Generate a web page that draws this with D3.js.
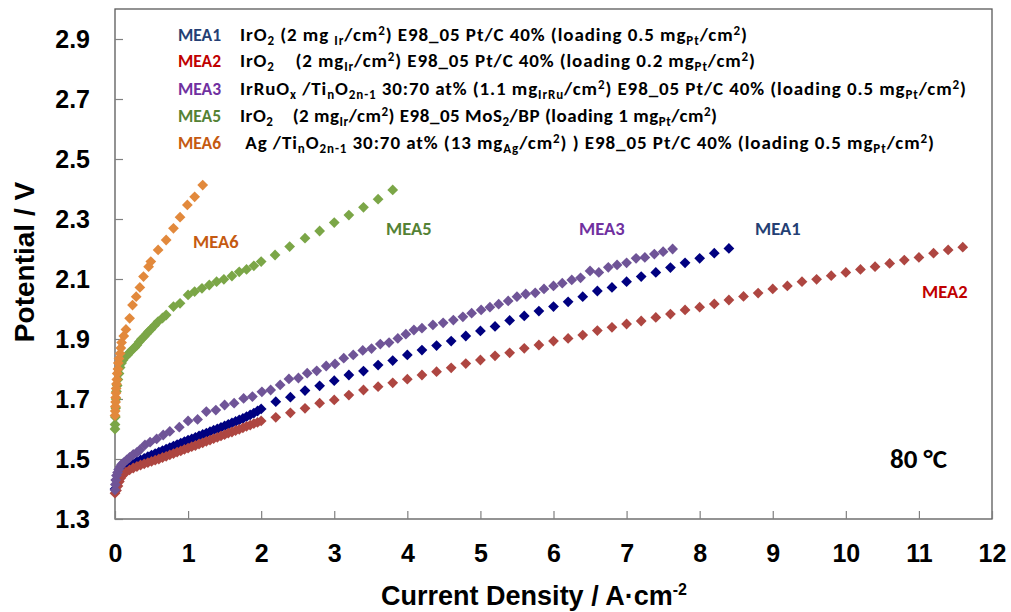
<!DOCTYPE html>
<html><head><meta charset="utf-8">
<script src="https://cdn.jsdelivr.net/npm/d3@7"></script>
<style>
body{margin:0;background:#fff}
text{white-space:pre}
</style></head>
<body><svg id="c" width="1011" height="612" xmlns="http://www.w3.org/2000/svg"></svg>
<script>
// ---------- data ----------
const xTicks = [0,1,2,3,4,5,6,7,8,9,10,11,12];
const yTicks = [1.3,1.5,1.7,1.9,2.1,2.3,2.5,2.7,2.9];
const seriesNames = ["MEA1","MEA2","MEA3","MEA5","MEA6"];
const markerColors = ["#000080","#AE4641","#6F5497","#7BA647","#E2893C"];
const labelColors  = ["#243F74","#C00000","#7030A0","#548235","#C55A11"];

// [current density A/cm2, potential V]
const mea1 = [[0,1.40],[0.02,1.43],[0.04,1.445],[0.06,1.455],[0.08,1.46],[0.1,1.465],[0.15,1.472],[0.2,1.479],[0.25,1.485],[0.3,1.491],[0.35,1.497],[0.4,1.502],[0.45,1.508],[0.5,1.513],[0.55,1.518],[0.6,1.523],[0.65,1.528],[0.7,1.533],[0.75,1.538],[0.8,1.543],[0.85,1.548],[0.9,1.553],[0.95,1.558],[1.0,1.563],[1.05,1.567],[1.1,1.572],[1.15,1.577],[1.2,1.582],[1.25,1.586],[1.3,1.591],[1.35,1.596],[1.4,1.600],[1.45,1.605],[1.5,1.610],[1.55,1.615],[1.6,1.620],[1.65,1.625],[1.7,1.630],[1.75,1.635],[1.8,1.641],[1.85,1.647],[1.9,1.653],[1.95,1.660],[2.0,1.667],
[2.2,1.691],[2.4,1.706],[2.6,1.728],[2.8,1.744],[3.0,1.761],[3.2,1.780],[3.4,1.793],[3.6,1.813],[3.8,1.828],[4.0,1.847],[4.2,1.863],[4.4,1.878],[4.6,1.893],[4.8,1.910],[5.0,1.927],[5.2,1.942],[5.4,1.962],[5.6,1.977],[5.8,1.993],[6.0,2.008],[6.2,2.024],[6.4,2.041],[6.6,2.060],[6.8,2.072],[7.0,2.091],[7.2,2.108],[7.4,2.122],[7.6,2.138],[7.8,2.154],[8.0,2.169],[8.2,2.186],[8.4,2.202]];

const mea2 = [[0,1.386],[0.02,1.395],[0.04,1.41],[0.06,1.425],[0.08,1.437],[0.1,1.445],[0.15,1.456],[0.2,1.464],[0.25,1.47],[0.3,1.475],[0.35,1.48],[0.4,1.484],[0.45,1.488],[0.5,1.492],[0.55,1.496],[0.6,1.5],[0.65,1.505],[0.7,1.509],[0.75,1.514],[0.8,1.518],[0.85,1.523],[0.9,1.527],[0.95,1.532],[1.0,1.536],[1.05,1.541],[1.1,1.545],[1.15,1.55],[1.2,1.554],[1.25,1.559],[1.3,1.563],[1.35,1.568],[1.4,1.572],[1.45,1.577],[1.5,1.581],[1.55,1.586],[1.6,1.59],[1.65,1.595],[1.7,1.599],[1.75,1.604],[1.8,1.609],[1.85,1.613],[1.9,1.618],[1.95,1.622],[2.0,1.627],
[2.2,1.639],[2.4,1.654],[2.6,1.669],[2.8,1.686],[3.0,1.697],[3.2,1.713],[3.4,1.73],[3.6,1.741],[3.8,1.754],[4.0,1.766],[4.2,1.78],[4.4,1.791],[4.6,1.804],[4.8,1.818],[5.0,1.83],[5.2,1.844],[5.4,1.854],[5.6,1.869],[5.8,1.88],[6.0,1.893],[6.2,1.902],[6.4,1.913],[6.6,1.928],[6.8,1.939],[7.0,1.95],[7.2,1.96],[7.4,1.972],[7.6,1.983],[7.8,1.997],[8.0,2.006],[8.2,2.017],[8.4,2.03],[8.6,2.042],[8.8,2.053],[9.0,2.067],[9.2,2.077],[9.4,2.091],[9.6,2.099],[9.8,2.111],[10.0,2.122],[10.2,2.132],[10.4,2.141],[10.6,2.152],[10.8,2.163],[11.0,2.172],[11.2,2.186],[11.4,2.197],[11.6,2.206]];

const mea3 = [[0,1.397],[0.005,1.415],[0.01,1.43],[0.02,1.445],[0.035,1.455],[0.05,1.465],[0.07,1.474],[0.09,1.482],[0.12,1.488],[0.16,1.497],[0.2,1.505],[0.25,1.515],[0.3,1.522],[0.34,1.53],[0.41,1.547],[0.48,1.556],[0.57,1.567],[0.66,1.58],[0.75,1.592],[0.88,1.606],[1.0,1.627],[1.13,1.632],[1.25,1.658],[1.38,1.663],[1.5,1.68],[1.63,1.686],[1.76,1.702],[1.88,1.708],[2.01,1.724],[2.13,1.73],[2.26,1.747],[2.38,1.767],[2.51,1.77],[2.63,1.786],[2.76,1.794],[2.89,1.81],[3.01,1.817],[3.13,1.836],[3.26,1.847],[3.39,1.862],[3.51,1.868],[3.63,1.883],[3.75,1.888],[3.87,1.902],[3.98,1.916],[4.09,1.93],[4.2,1.936],[4.35,1.947],[4.49,1.954],[4.63,1.963],[4.76,1.974],[4.88,1.986],[5.01,1.997],[5.13,2.006],[5.25,2.016],[5.38,2.027],[5.5,2.041],[5.62,2.05],[5.75,2.054],[5.87,2.067],[6.0,2.077],[6.12,2.086],[6.25,2.097],[6.37,2.104],[6.5,2.127],[6.62,2.122],[6.75,2.139],[6.87,2.147],[7.0,2.154],[7.13,2.169],[7.25,2.172],[7.38,2.183],[7.5,2.191],[7.63,2.2]];

const mea5 = [[0,1.600],[0,1.615],[0.005,1.64],[0.01,1.67],[0.015,1.70],[0.02,1.725],[0.03,1.745],[0.04,1.765],[0.055,1.785],[0.07,1.805],[0.09,1.82],[0.11,1.83],[0.14,1.84],[0.17,1.847],[0.2,1.855],[0.23,1.863],[0.27,1.872],[0.3,1.88],[0.33,1.89],[0.36,1.899],[0.4,1.908],[0.43,1.917],[0.46,1.925],[0.49,1.932],[0.54,1.945],[0.59,1.958],[0.65,1.97],[0.7,1.98],[0.8,2.008],[0.89,2.019],[1.0,2.047],[1.09,2.058],[1.19,2.069],[1.29,2.08],[1.39,2.091],[1.49,2.099],[1.6,2.11],[1.7,2.124],[1.8,2.132],[1.9,2.144],[2.0,2.158],[2.19,2.18],[2.39,2.208],[2.6,2.236],[2.8,2.26],[3.0,2.288],[3.2,2.313],[3.4,2.339],[3.6,2.366],[3.8,2.397]];

const mea6 = [[0,1.645],[0.003,1.66],[0.005,1.675],[0.008,1.69],[0.01,1.705],[0.013,1.72],[0.016,1.735],[0.02,1.75],[0.025,1.765],[0.03,1.785],[0.04,1.80],[0.045,1.82],[0.055,1.835],[0.07,1.852],[0.08,1.87],[0.09,1.888],[0.12,1.91],[0.15,1.932],[0.2,1.969],[0.24,2.013],[0.29,2.041],[0.34,2.072],[0.39,2.108],[0.46,2.141],[0.49,2.158],[0.59,2.197],[0.7,2.23],[0.8,2.269],[0.89,2.306],[0.99,2.347],[1.09,2.374],[1.2,2.413]];

const allSeries = [mea1, mea2, mea3, mea5, mea6];

// legend descriptions: [text, kind] kind: "" normal, "b" subscript, "p" superscript
const legendDesc = [
 [["IrO",""],["2","b"],[" (2 mg ",""],["Ir","b"],["/cm",""],["2","p"],[") E98_05 Pt/C 40% (loading 0.5 mg",""],["Pt","b"],["/cm",""],["2","p"],[")",""]],
 [["IrO",""],["2","b"],["    (2 mg",""],["Ir","b"],["/cm",""],["2","p"],[") E98_05 Pt/C 40% (loading 0.2 mg",""],["Pt","b"],["/cm",""],["2","p"],[")",""]],
 [["IrRuO",""],["x","b"],[" /Ti",""],["n","b"],["O",""],["2n-1","b"],[" 30:70 at% (1.1 mg",""],["IrRu","b"],["/cm",""],["2","p"],[") E98_05 Pt/C 40% (loading 0.5 mg",""],["Pt","b"],["/cm",""],["2","p"],[")",""]],
 [["IrO",""],["2","b"],["    (2 mg",""],["Ir","b"],["/cm",""],["2","p"],[") E98_05 MoS",""],["2","b"],["/BP (loading 1 mg",""],["Pt","b"],["/cm",""],["2","p"],[")",""]],
 [[" Ag /Ti",""],["n","b"],["O",""],["2n-1","b"],[" 30:70 at% (13 mg",""],["Ag","b"],["/cm",""],["2","p"],[") ) E98_05 Pt/C 40% (loading 0.5 mg",""],["Pt","b"],["/cm",""],["2","p"],[")",""]]
];

// ---------- layout (pixels) ----------
const legendBaselines = [41, 67, 95, 122, 149];
const legendLineWidths = [507, 515, 726, 477, 694];
const inlineLabelPos = [[755,235],[922,298],[579,235],[386,235],[193,248]];

// ---------- drawing ----------
const svg = d3.select("#c");
const x = d3.scaleLinear().domain([0,12]).range([115,992]);
const y = d3.scaleLinear().domain([1.3,3.0]).range([519,9]);
const axisFont = "'Liberation Sans', Arial, sans-serif";
const calFont = "Carlito, Lato, 'Open Sans', sans-serif";

// frame
svg.append("rect").attr("x",x(0)).attr("y",y(3.0)).attr("width",x(12)-x(0)).attr("height",y(1.3)-y(3.0))
  .attr("fill","none").attr("stroke","#595959").attr("stroke-width",1.3);

const gx = svg.append("g").attr("transform",`translate(0,${y(1.3)})`)
  .call(d3.axisBottom(x).tickValues(xTicks).tickFormat(d3.format("d")).tickSizeInner(-8).tickSizeOuter(0).tickPadding(25));
const gy = svg.append("g").attr("transform",`translate(${x(0)},0)`)
  .call(d3.axisLeft(y).tickValues(yTicks).tickFormat(d3.format(".1f")).tickSizeInner(-8).tickSizeOuter(0).tickPadding(25));
[gx,gy].forEach(g=>{
  g.select(".domain").remove();
  g.selectAll(".tick line").attr("stroke","#808080").attr("stroke-width",1.2);
  g.selectAll(".tick text").attr("fill","#000").style("font-family",axisFont).style("font-weight","bold").style("font-size","25px");
});

// markers
const diamond = d3.symbol().type(d3.symbolSquare).size(58)();
allSeries.forEach((s,i)=>{
  svg.append("g").selectAll("path").data(s).join("path")
    .attr("d",diamond)
    .attr("transform",d=>`translate(${x(d[0])},${y(d[1])}) rotate(45)`)
    .attr("fill",markerColors[i]);
});

// axis titles
svg.append("text").attr("transform","translate(34,262) rotate(-90)").attr("text-anchor","middle")
  .style("font-family",axisFont).style("font-weight","bold").style("font-size","28px").text("Potential / V");
const xt = svg.append("text").attr("x",534).attr("y",605).attr("text-anchor","middle")
  .style("font-family",axisFont).style("font-weight","bold").style("font-size","27px");
xt.append("tspan").text("Current Density / A·cm");
xt.append("tspan").attr("dy",-10).style("font-size","16px").text("-2");

// legend
seriesNames.forEach((n,i)=>{
  svg.append("text").attr("x",178).attr("y",legendBaselines[i]).attr("fill",labelColors[i])
    .style("font-family",calFont).style("font-weight","bold").style("font-size","17.5px").text(n);
  const t = svg.append("text").attr("x",240).attr("y",legendBaselines[i]).attr("fill","#000")
    .style("font-family",calFont).style("font-weight","bold").style("font-size","19px")
    .attr("textLength",legendLineWidths[i]).attr("lengthAdjust","spacing");
  let shift = 0;
  legendDesc[i].forEach(([s,k])=>{
    const target = k==="b"?4:(k==="p"?-6:0);
    const sp = t.append("tspan").attr("dy",target-shift).text(s);
    if(k) sp.style("font-size","13px");
    shift = target;
  });
});

// inline labels
seriesNames.forEach((n,i)=>{
  svg.append("text").attr("x",inlineLabelPos[i][0]).attr("y",inlineLabelPos[i][1]).attr("fill",labelColors[i])
    .style("font-family",calFont).style("font-weight","bold").style("font-size","18.5px").text(n);
});

svg.append("text").attr("x",890).attr("y",468).attr("fill","#000")
  .style("font-family",calFont).style("font-weight","bold").style("font-size","27px").text("80 °C");
</script>
</body></html>
